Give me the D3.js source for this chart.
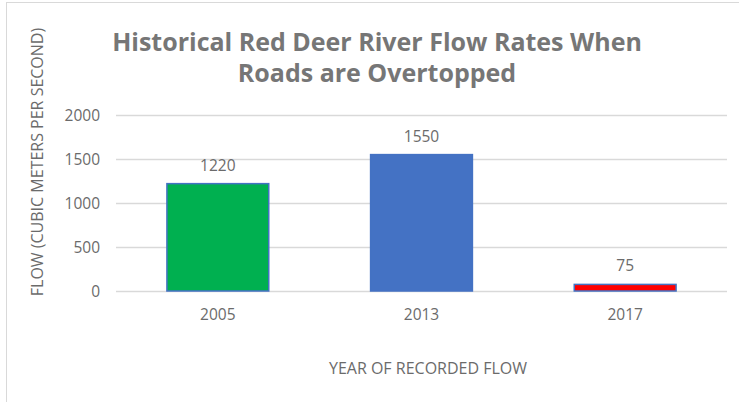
<!DOCTYPE html>
<html>
<head>
<meta charset="utf-8">
<script src="https://cdn.jsdelivr.net/npm/d3@7"></script>
<style>
  html, body { margin: 0; padding: 0; background: #fff; }
  svg { display: block; }
  text { font-family: "Open Sans", "Noto Sans", sans-serif; }
</style>
</head>
<body>
<svg id="chart" width="739" height="402"></svg>
<script>
// ---- data ----
const years = ["2005", "2013", "2017"];
const flows = [1220, 1550, 75];
const barColors = ["#00B050", "#4472C4", "#FF0000"];
const yTicks = [0, 500, 1000, 1500, 2000];
const titleLines = ["Historical Red Deer River Flow Rates When", "Roads are Overtopped"];
const yTitle = "FLOW (CUBIC METERS PER SECOND)";
const xTitle = "YEAR OF RECORDED FLOW";

const svg = d3.select("#chart");
const W = 739, H = 402;
const margin = { left: 116, right: 12, top: 115, bottom: 111 };

// frame
svg.append("rect").attr("x", 6.5).attr("y", 2.5).attr("width", W).attr("height", H)
  .attr("fill", "#fff").attr("stroke", "#d9d9d9").attr("stroke-width", 1);

const x = d3.scaleBand().domain(years).range([margin.left, W - margin.right]).paddingInner(0.5).paddingOuter(0.25);
const y = d3.scaleLinear().domain([0, 2000]).range([H - margin.bottom, margin.top]);

// gridlines
const yAxis = d3.axisLeft(y).tickValues(yTicks).tickFormat(d3.format("d"))
  .tickSize(-(W - margin.right - margin.left)).tickPadding(16);
const gy = svg.append("g").attr("transform", `translate(${margin.left},0)`).call(yAxis);
gy.select(".domain").remove();
gy.selectAll(".tick line").attr("stroke", "#d9d9d9").attr("stroke-width", 1.3);
gy.selectAll(".tick text").attr("fill", "#6b6b6b").style("font-size", "15.5px").attr("dy", "0.35em");

// x axis labels
const xAxis = d3.axisBottom(x).tickSize(0).tickPadding(18);
const gx = svg.append("g").attr("transform", `translate(0,${y(0)})`).call(xAxis);
gx.select(".domain").remove();
gx.selectAll(".tick text").attr("fill", "#6b6b6b").style("font-size", "15.5px");

// bars
svg.append("g").selectAll("rect").data(years).join("rect")
  .attr("x", d => x(d))
  .attr("width", x.bandwidth())
  .attr("y", (d, i) => y(flows[i]))
  .attr("height", (d, i) => y(0) - y(flows[i]))
  .attr("fill", (d, i) => barColors[i])
  .attr("stroke", "#4472C4")
  .attr("stroke-width", 1.5);

// value labels
svg.append("g").selectAll("text").data(years).join("text")
  .attr("x", d => x(d) + x.bandwidth() / 2)
  .attr("y", (d, i) => y(flows[i]) - 13)
  .attr("text-anchor", "middle")
  .attr("fill", "#6b6b6b")
  .style("font-size", "15.5px")
  .text((d, i) => flows[i]);

// title
svg.append("g").selectAll("text").data(titleLines).join("text")
  .attr("x", 377)
  .attr("y", (d, i) => 51 + i * 31)
  .attr("text-anchor", "middle")
  .attr("fill", "#767676")
  .style("font-size", "25px")
  .style("font-weight", "bold")
  .text(d => d);

// axis titles
svg.append("text")
  .attr("transform", `translate(43,162) rotate(-90)`)
  .attr("text-anchor", "middle")
  .attr("fill", "#6b6b6b")
  .style("font-size", "16px")
  .text(yTitle);

svg.append("text")
  .attr("x", 428).attr("y", 374)
  .attr("text-anchor", "middle")
  .attr("fill", "#6b6b6b")
  .style("font-size", "16px")
  .text(xTitle);
</script>
</body>
</html>
